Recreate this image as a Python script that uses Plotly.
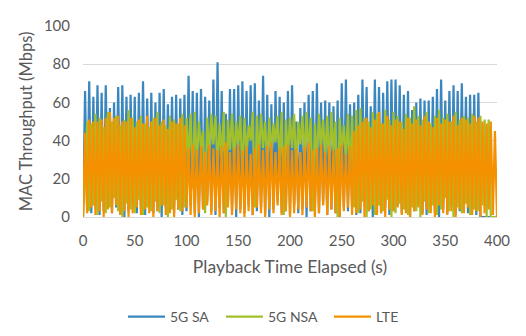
import plotly.graph_objects as go

# Time axis (seconds), sampled every 2 s
time_s = list(range(0, 401, 2))

# 5G SA MAC throughput (Mbps), t = 0..398
sa_5g = [
    0, 66, 4, 71, 2, 63, 6, 69, 1, 65, 3, 69, 8, 57, 2, 60, 5, 68, 1, 69,
    0, 63, 3, 64, 7, 63, 2, 65, 4, 71, 1, 62, 6, 65, 2, 60, 3, 65, 0, 67,
    5, 59, 9, 63, 2, 64, 4, 62, 1, 64, 3, 74, 6, 66, 2, 65, 0, 67, 4, 63,
    8, 61, 3, 72, 1, 81, 5, 66, 2, 54, 7, 67, 3, 67, 0, 69, 4, 71, 2, 66,
    6, 69, 1, 70, 3, 61, 5, 74, 2, 64, 0, 59, 4, 66, 8, 63, 2, 60, 3, 66,
    1, 69, 6, 50, 2, 57, 4, 60, 0, 64, 3, 66, 5, 70, 2, 60, 7, 61, 1, 60,
    4, 58, 2, 61, 0, 70, 5, 72, 3, 59, 6, 60, 1, 64, 2, 72, 8, 68, 3, 58,
    0, 72, 4, 68, 2, 65, 5, 71, 1, 72, 3, 72, 6, 69, 2, 64, 4, 66, 0, 56,
    3, 60, 7, 62, 2, 61, 1, 61, 5, 63, 3, 67, 0, 72, 4, 61, 2, 66, 6, 69,
    1, 66, 3, 70, 5, 63, 2, 64, 4, 64, 1, 65, 0,
    0, 0, 0, 0, 0, 0, 0,
]

# 5G NSA MAC throughput (Mbps), t = 0..400
nsa_5g = [
    0,
    20, 50, 3, 49, 6, 54, 1, 52, 8, 47, 2, 55, 5, 50, 10, 53, 3, 48, 0, 51,
    7, 56, 4, 52, 2, 50, 9, 53, 1, 49, 5, 47, 3, 52, 8, 55, 2, 50, 6, 48,
    0, 53, 4, 51, 9, 49, 3, 54, 5, 52,
    30, 54, 15, 55, 28, 50, 36, 45, 2, 52, 33, 54, 38, 53, 25, 49, 31, 55, 0, 51,
    35, 54, 29, 50, 37, 53, 22, 52, 33, 48, 40, 55, 5, 53, 30, 54, 36, 50, 27, 52,
    34, 49, 39, 53, 28, 55, 1, 51, 32, 52, 36, 54, 24, 50, 38, 53, 30, 55, 33, 52,
    3, 49, 29, 54, 37, 51, 31, 53, 26, 55, 35, 50, 0, 52, 34, 48, 30, 54, 20, 53,
    5, 56, 2, 57, 8, 52, 0, 50, 4, 55, 1, 54, 6, 49, 3, 56, 9, 51, 0, 55,
    2, 53, 7, 50, 4, 54, 1, 52, 5, 58, 3, 53, 0, 51, 8, 55, 2, 49, 6, 53,
    1, 56, 4, 52, 10, 54, 3, 50, 0, 55, 5, 51, 2, 53, 7, 52, 1, 54, 4, 50,
    3, 53, 6, 51, 0, 51,
    0, 0, 0, 0,
]

# LTE MAC throughput (Mbps), t = 0..400
lte = [
    0, 44, 2, 51, 5, 50, 1, 50, 3, 51, 0, 52, 4, 55, 2, 52, 6, 53, 1, 50,
    3, 50, 0, 52, 2, 47, 5, 51, 1, 49, 4, 53, 2, 50, 0, 52, 3, 48, 6, 51,
    1, 46, 2, 50, 0, 49, 4, 52, 3, 48, 5, 36, 1, 38, 0, 35, 2, 37, 4, 34,
    6, 38, 1, 36, 3, 35, 0, 37, 2, 39, 5, 34, 1, 36, 4, 38, 2, 35, 0, 37,
    3, 33, 1, 36, 5, 38, 2, 35, 0, 37, 4, 39, 2, 34, 6, 36, 1, 37, 3, 38,
    0, 35, 2, 36, 4, 34, 1, 37, 5, 39, 3, 35, 0, 36, 2, 38, 6, 34, 1, 37,
    4, 35, 2, 36, 0, 38, 3, 33, 5, 37, 1, 45, 2, 48, 4, 50, 0, 52, 3, 47,
    6, 51, 1, 55, 2, 49, 0, 53, 4, 48, 3, 51, 5, 50, 1, 46, 2, 52, 0, 49,
    3, 51, 5, 48, 1, 53, 4, 50, 2, 47, 0, 52, 6, 49, 2, 51, 1, 50, 3, 53,
    0, 48, 4, 52, 2, 51, 5, 49, 1, 53, 3, 52, 0, 50, 2, 49, 4, 50, 1, 45,
    0,
]

series_names = ["5G SA", "5G NSA", "LTE"]
series_colors = ["#3A86BF", "#A2C02A", "#F59100"]
series_values = [sa_5g, nsa_5g, lte]
legend_ids = ["legend", "legend2", "legend3"]
legend_x = [0.2255, 0.4176, 0.6294]

x_ticks = [0, 50, 100, 150, 200, 250, 300, 350, 400]
y_ticks = [0, 20, 40, 60, 80, 100]

FONT = "Lato, Open Sans, sans-serif"
GREY = "#595959"

fig = go.Figure()
for name, color, vals, lid in zip(series_names, series_colors, series_values, legend_ids):
    fig.add_trace(go.Scatter(
        x=time_s[:len(vals)], y=vals, mode="lines", name=name,
        line=dict(color=color, width=2.2), legend=lid,
    ))

legend_common = dict(
    orientation="h", xref="container", yref="container",
    xanchor="left", y=0.0344, yanchor="middle",
    font=dict(size=14, color=GREY), itemwidth=37, bgcolor="rgba(0,0,0,0)",
)
layout_legends = {}
for lid, lx in zip(legend_ids, legend_x):
    layout_legends[lid] = dict(legend_common, x=lx)

# the page body has an 8 px margin, so the figure is laid out 8 px smaller
fig.update_layout(
    width=510, height=320,
    margin=dict(l=75, r=19, t=8, b=111),
    paper_bgcolor="white", plot_bgcolor="white",
    font=dict(family=FONT, color=GREY, size=15),
    showlegend=True,
    **layout_legends,
)
fig.update_xaxes(
    range=[0, 400], tickvals=x_ticks, showgrid=False, zeroline=False,
    showline=True, linecolor="#D9D9D9", linewidth=1,
    ticks="outside", ticklen=10, tickcolor="rgba(0,0,0,0)",
    tickfont=dict(size=15, color=GREY), ticklabeloverflow="allow",
    title=dict(text="Playback Time Elapsed (s)", font=dict(size=17.5, color=GREY), standoff=12),
)
fig.update_yaxes(
    range=[0, 100], tickvals=y_ticks, showgrid=True, gridcolor="#D9D9D9", gridwidth=1,
    zeroline=False, showline=False,
    ticks="outside", ticklen=9, tickcolor="rgba(0,0,0,0)",
    tickfont=dict(size=15, color=GREY), ticklabeloverflow="allow",
    title=dict(text="MAC Throughput (Mbps)", font=dict(size=16.5, color=GREY), standoff=7),
)

fig.write_html("out.html")
